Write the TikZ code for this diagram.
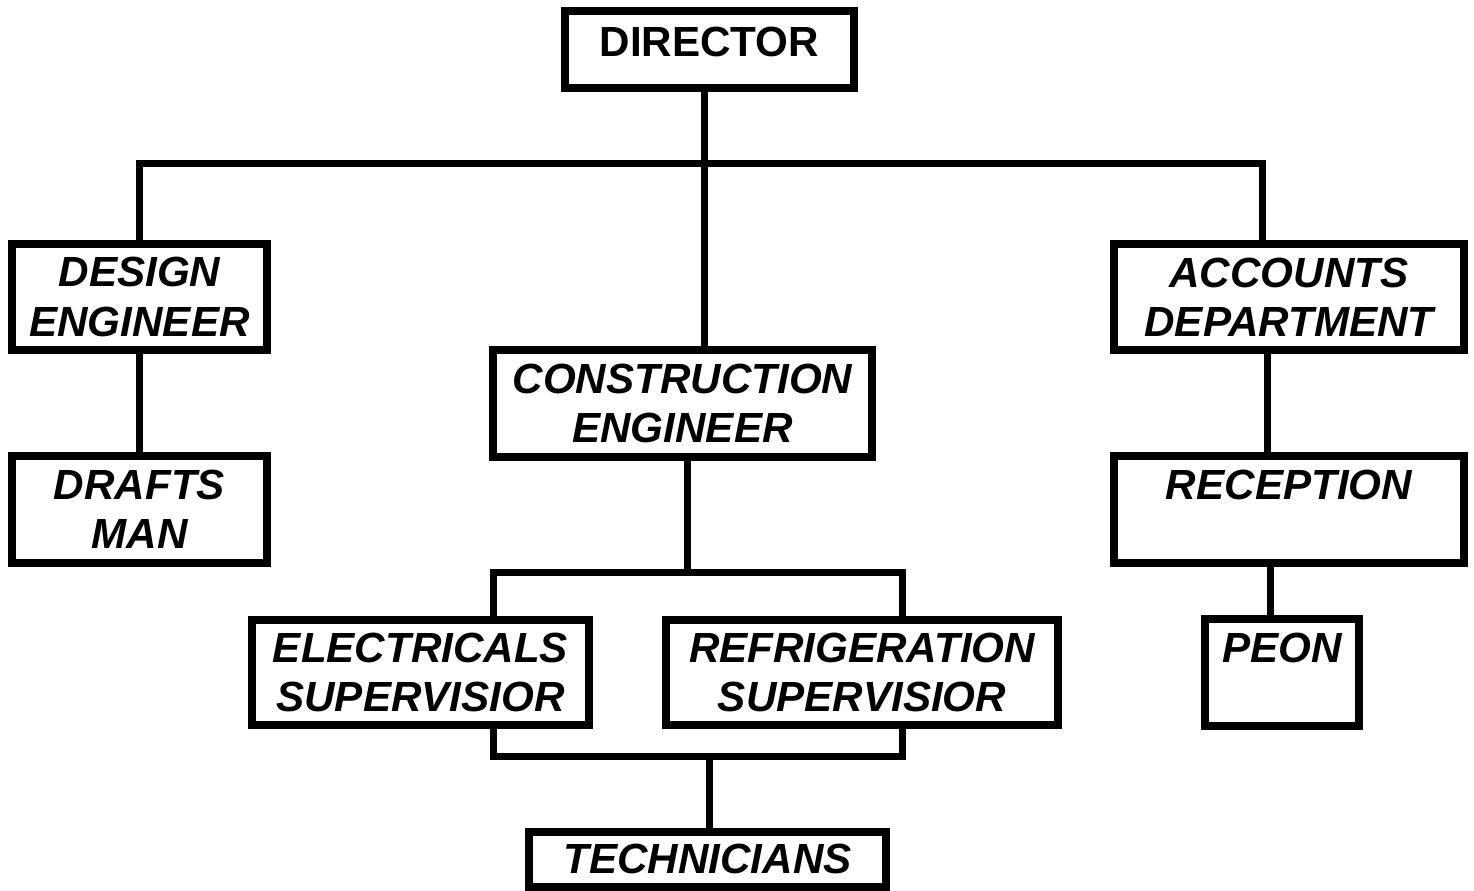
\documentclass[tikz,border=0pt]{standalone}
\usepackage{fontspec}
\setmainfont{Liberation Sans}
\usetikzlibrary{positioning}
\tikzset{
  basic/.style  = {draw, rectangle, line width=0.16cm, inner sep=0pt, align=center,
                   font=\fontsize{24}{28}\selectfont\bfseries},
  head/.style   = {basic, text depth=0.3cm},
  post/.style   = {basic, font=\fontsize{24}{28}\selectfont\bfseries\itshape},
  link/.style   = {line width=0.14cm}
}
\begin{document}
\begin{tikzpicture}
\useasboundingbox (0,0) rectangle (29.48,-17.8);

% top of the chart
\node[head, minimum width=5.78cm, minimum height=1.54cm] (director) at (14.19,-0.99) {DIRECTOR};

% second level
\node[post, minimum width=5.10cm, minimum height=2.12cm] (design) at (2.79,-5.94) {DESIGN\\ENGINEER};
\node[post, minimum width=7.58cm, minimum height=2.14cm] (construction) at (13.65,-8.07) {CONSTRUCTION\\ENGINEER};
\node[post, minimum width=7.00cm, minimum height=2.12cm] (accounts) at (25.78,-5.94) {ACCOUNTS\\DEPARTMENT};

% third level
\node[post, minimum width=5.10cm, minimum height=2.14cm] (drafts) at (2.79,-10.19) {DRAFTS\\MAN};
\node[post, minimum width=7.00cm, minimum height=2.14cm] (reception) at (25.78,-10.19) {RECEPTION\\~};
\node[post, minimum width=6.74cm, minimum height=2.10cm] (electricals) at (8.41,-13.45) {ELECTRICALS\\SUPERVISIOR};
\node[post, minimum width=7.84cm, minimum height=2.10cm] (refrigeration) at (17.24,-13.45) {REFRIGERATION\\SUPERVISIOR};
\node[post, minimum width=3.08cm, minimum height=2.14cm] (peon) at (25.64,-13.45) {PEON\\~};

% bottom
\node[post, minimum width=7.14cm, minimum height=1.10cm] (technicians) at (14.15,-17.18) {TECHNICIANS};

% bus lines
\coordinate (bus) at (14.08,-3.26);
\coordinate (busL) at (2.78,-3.26);
\coordinate (busR) at (25.24,-3.26);
\coordinate (split) at (13.74,-11.44);
\coordinate (splitL) at (9.86,-11.44);
\coordinate (splitR) at (18.04,-11.44);
\coordinate (join) at (14.18,-15.12);
\coordinate (joinL) at (9.86,-15.12);
\coordinate (joinR) at (18.04,-15.12);

\draw[link] (director.south -| bus) -- (construction.north -| bus);
\draw[link] (design.north -| busL) -- (busL) -- (busR) -- (accounts.north -| busR);
\draw[link] (design) -- (drafts);
\draw[link] ([xshift=-0.44cm]accounts.south) -- ([xshift=-0.44cm]reception.north);
\draw[link] ([xshift=-0.38cm]reception.south) -- ([xshift=-0.38cm]reception.south |- peon.north);
\draw[link] (construction.south -| split) -- (split);
\draw[link] (electricals.north -| splitL) -- (splitL) -- (splitR) -- (refrigeration.north -| splitR);
\draw[link] (electricals.south -| joinL) -- (joinL) -- (joinR) -- (refrigeration.south -| joinR);
\draw[link] (join) -- (technicians.north -| join);

\end{tikzpicture}
\end{document}
